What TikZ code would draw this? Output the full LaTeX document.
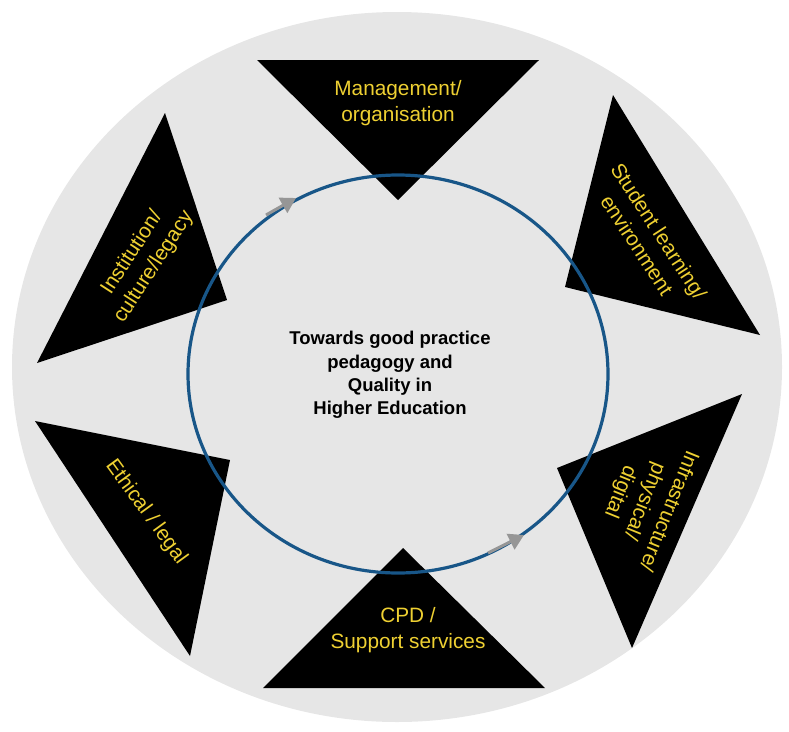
\documentclass[tikz,border=0pt]{standalone}
\usepackage{fontspec}
\setmainfont{Liberation Sans}
\usetikzlibrary{arrows.meta}
\definecolor{ringgray}{RGB}{230,230,230}
\definecolor{loopblue}{RGB}{24,86,136}
\definecolor{labelyellow}{RGB}{238,208,50}
\definecolor{tipgray}{RGB}{150,150,150}

\begin{document}
\begin{tikzpicture}[x=1pt,y=1pt,
  wedge/.style={fill=black},
  wedgelabel/.style={text=labelyellow,align=center,font=\fontsize{20.8}{26}\selectfont},
  flowtip/.style={tipgray,line width=3pt,-{Triangle[length=15pt,width=17pt]}}]
\tikzstyle{every node}+=[inner sep=0pt]
\useasboundingbox (0,0) rectangle (789,-731);
\fill [ringgray] (397,-367) ellipse [x radius=385,y radius=355];
\fill [wedge] (257,-60) -- (539,-60) -- (398,-200) -- cycle;
\fill [wedge] (613,-95) -- (760,-335) -- (565,-287) -- cycle;
\fill [wedge] (742,-394) -- (632,-648) -- (557,-468) -- cycle;
\fill [wedge] (403,-548) -- (545,-688) -- (263,-688) -- cycle;
\fill [wedge] (35,-421) -- (230,-460) -- (190,-656) -- cycle;
\fill [wedge] (165,-113) -- (227,-300) -- (37,-363) -- cycle;
\draw [loopblue,line width=3.2pt] (398,-374) ellipse [x radius=210,y radius=199];
\draw (398,-103) node [wedgelabel] (mgmt) {Management/\\organisation};
\draw (648,-238) node [wedgelabel,rotate=-57] (student) {Student learning/\\environment};
\draw (644,-501) node [wedgelabel,rotate=-112] (infra) {Infrastructure/\\physical/\\digital};
\draw (408,-630) node [wedgelabel] (cpd) {CPD /\\Support services};
\draw (146,-512) node [wedgelabel,rotate=-54] (ethic) {Ethical / legal};
\draw (143,-260) node [wedgelabel,rotate=57] (inst) {Institution/\\culture/legacy};
\draw (390,-375) node [align=center,font=\fontsize{18.5}{23.3}\selectfont\bfseries] (goal)
  {Towards good practice\\pedagogy and\\Quality in\\Higher Education};
\coordinate (flowa) at (266,-215);
\coordinate (flowb) at (296,-198);
\coordinate (flowc) at (488,-553);
\coordinate (flowd) at (524,-535);
\draw [flowtip] (flowa) -- (flowb);
\draw [flowtip] (flowc) -- (flowd);
\end{tikzpicture}
\end{document}
